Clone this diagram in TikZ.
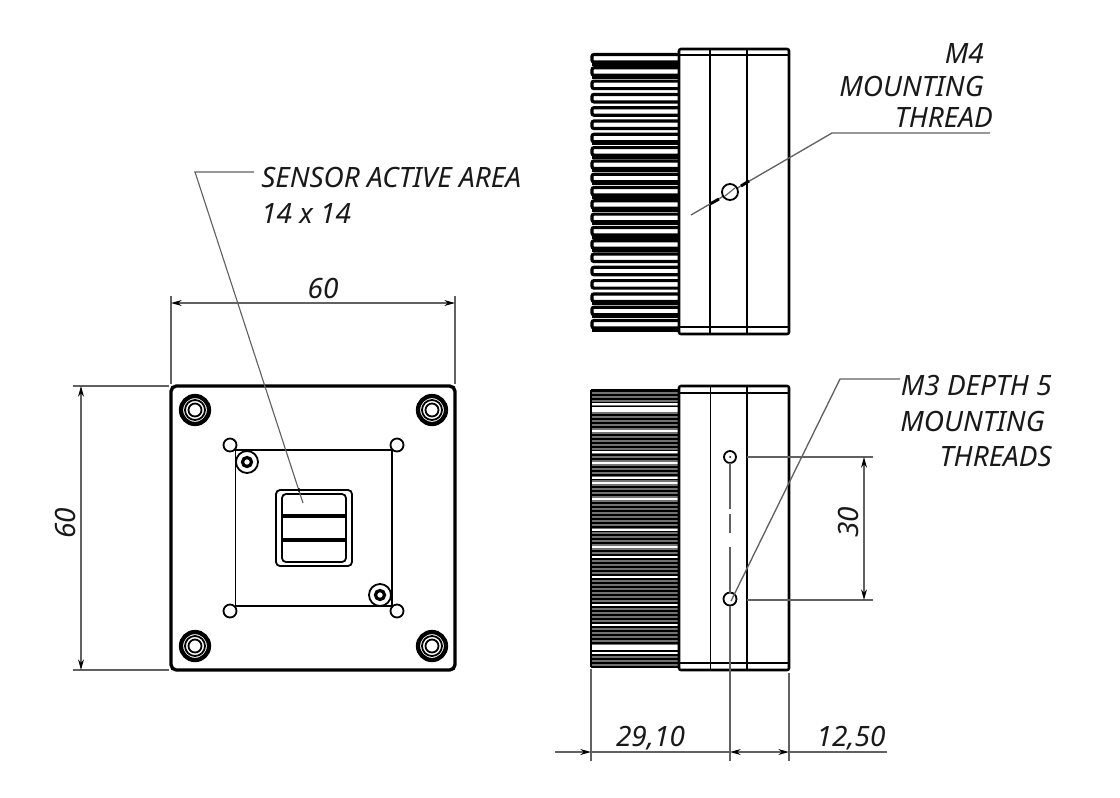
\documentclass[tikz,border=0pt]{standalone}
\usepackage{fontspec}
\setmainfont{Noto Sans}
\usepackage{xcolor}
\usetikzlibrary{calc,arrows.meta}
\definecolor{dimgray}{gray}{0.38}
\definecolor{fingray}{gray}{0.45}

\begin{document}
\begin{tikzpicture}[x=0.75pt,y=-0.75pt]
        % Define the styles for the outlines, dimensions and labels
        \tikzstyle{outline}=[draw=black, line width=1.9pt];
        \tikzstyle{thinoutline}=[draw=black, line width=1.35pt];
        \tikzstyle{dimline}=[draw=dimgray, line width=0.85pt];
        \tikzstyle{dimarrow}=[dimline, {Stealth[length=8pt,width=4.4pt,color=black]}-{Stealth[length=8pt,width=4.4pt,color=black]}];
        \tikzstyle{dimend}=[dimline, -{Stealth[length=8pt,width=4.4pt,color=black]}];
        \tikzstyle{label}=[inner sep=0pt, font=\fontsize{21}{23}\selectfont\itshape, text=black!90];

        \useasboundingbox (0,0) rectangle (1120,797);

        % Front view
        \draw[outline, line width=2.5pt, rounded corners=4pt] (171,386) rectangle (455,670);
        \foreach \px/\py in {195/410, 432/410, 195/646, 432/646} {
            \coordinate (bolt) at (\px,\py);
            \draw[line width=3.2pt] (bolt) circle (14);
            \draw[thinoutline] (bolt) circle (10);
            \draw[thinoutline] (bolt) circle (6.5);
        }
        \draw[thinoutline] (235.5,450) rectangle (392,606);
        \foreach \px/\py in {230/445, 397/445, 230/611, 397/611} {
            \draw[thinoutline, fill=white] (\px,\py) circle (6.5);
        }
        \foreach \px/\py in {247/462, 380/595} {
            \draw[thinoutline, fill=white] (\px,\py) circle (11);
            \draw[line width=2.4pt] (\px,\py) circle (4.5);
        }

        % Sensor window
        \draw[thinoutline, rounded corners=3pt] (276,490) rectangle (352,566);
        \draw[thinoutline, rounded corners=3pt] (282,494) rectangle (346,562);
        \draw[line width=2.6pt] (282,516) -- (346,516);
        \draw[line width=2.6pt] (282,540) -- (346,540);

        % Dimensions of the front view
        \coordinate (FTL) at (171,303);
        \coordinate (FTR) at (455,303);
        \coordinate (FLT) at (81,386);
        \coordinate (FLB) at (81,670);
        \draw[dimline] (171,296) -- (171,384);
        \draw[dimline] (455,296) -- (455,384);
        \draw[dimline] (73,386) -- (169,386);
        \draw[dimline] (73,670) -- (169,670);
        \draw[dimarrow] (FTL) -- (FTR);
        \draw[dimarrow] (FLT) -- (FLB);
        \node[label, anchor=base] (widthlabel) at (323,298) {60};
        \node[label, rotate=90] (heightlabel) at (65,523) {60};

        % Leader of the sensor area
        \coordinate (SA) at (303,503);
        \coordinate (SB) at (195,172);
        \coordinate (SC) at (254,172);
        \draw[dimline] (SA) -- (SB) -- (SC);
        \draw[fill=black] (SA) ++(-4,-13) circle (1.6);
        \node[label, anchor=base west] (sensorlabel) at (261,187) {SENSOR ACTIVE AREA};
        \node[label, anchor=base west] (sizelabel) at (261,223) {14 x 14};

        % Upper side view: the fins
        \foreach \i in {0,...,20} {
            \draw[line width=2.4pt, rounded corners=1.5pt, fill=white] (679,{54.5+13.3*\i}) -- (592,{54.5+13.3*\i}) -- (592,{62+13.3*\i}) -- (679,{62+13.3*\i});
        }
        \foreach \i in {0,1,6,7,8,9,10,11,12,13,14,18,19,20} {
            \draw[line width=2.4pt] (592,{64+13.3*\i}) -- (679,{64+13.3*\i});
        }

        % Upper side view: the body
        \draw[outline, rounded corners=1.5pt, fill=white] (679,49) rectangle (789,334);
        \draw[thinoutline] (679,55) -- (789,55);
        \draw[thinoutline] (679,327) -- (789,327);
        \draw[thinoutline] (710,49) -- (710,334);
        \draw[thinoutline] (747,49) -- (747,334);

        % Thread M4 and its leader
        \coordinate (MA) at (691,215);
        \coordinate (MB) at (832,133);
        \coordinate (MC) at (990,133);
        \draw[dimline, line width=1pt] (MA) -- (MB) -- (MC);
        \draw[thinoutline, fill=white] (730,192) circle (8);
        \draw[dimline] (725,196) -- (735,188);
        \draw[line width=2.2pt] (710,204) -- (719,199);
        \draw[line width=2.2pt] (741,186) -- (749,181);
        \node[label, anchor=base east] (mfourlabel) at (984,63) {M4};
        \node[label, anchor=base east] (mountlabel) at (984,96) {MOUNTING};
        \node[label, anchor=base east] (threadlabel) at (993,127) {THREAD};

        % Lower side view: the fins
        \fill[fingray] (591,390) rectangle (679,667);
        \foreach \i in {0,...,69} {
            \draw[line width=1.15pt] (591,{391+4*\i}) -- (679,{391+4*\i});
        }
        % the light stripes among the fins
        \foreach \sy/\sw in {404/1.4, 409.5/5, 431/1.4, 452/1.8, 463/1.4, 478/1.4, 483/1.4, 499/1.4, 530/1.4, 547/1.4, 557/1.4, 577/1.4, 605/1.4, 625/1.6, 647/5, 653/1.4} {
            \fill[white] (592,{\sy-\sw/2}) rectangle (678,{\sy+\sw/2});
        }
        \draw[line width=1.4pt] (591,390) -- (591,667);
        \draw[line width=1.2pt] (591,390) -- (679,390);

        % Lower side view: the body
        \draw[outline, rounded corners=1.5pt, fill=white] (679,386) rectangle (789,670);
        \draw[thinoutline] (679,393) -- (789,393);
        \draw[thinoutline] (679,663) -- (789,663);
        \draw[thinoutline] (710.5,386) -- (710.5,670);
        \draw[thinoutline] (747,386) -- (747,670);

        % Threads M3
        \coordinate (TU) at (730,457);
        \coordinate (TL) at (730,599);
        \draw[thinoutline] (TU) circle (6);
        \fill (TU) circle (1);
        \draw[thinoutline] (TL) circle (6.5);
        \draw[dimline] (730,463) -- (730,509);
        \draw[dimline] (730,514) -- (730,533);
        \draw[dimline] (730,547) -- (730,593);

        % Leader of the threads M3
        \coordinate (LA) at (731,601);
        \coordinate (LB) at (840,379);
        \coordinate (LC) at (900,379);
        \draw[dimline, line width=1pt] (LA) -- (LB) -- (LC);
        \node[label, anchor=base east] (mthreelabel) at (1052,395) {M3 DEPTH 5};
        \node[label, anchor=base east] (mountlabeltwo) at (1045,431) {MOUNTING};
        \node[label, anchor=base east] (threadlabeltwo) at (1052,466) {THREADS};

        % Dimension 30
        \coordinate (DU) at (864,457);
        \coordinate (DL) at (864,600);
        \draw[dimline] (747,457) -- (873,457);
        \draw[dimline] (747,600) -- (873,600);
        \draw[dimarrow] (DU) -- (DL);
        \node[label, rotate=90] (thirtylabel) at (848,522) {30};

        % Dimensions below
        \coordinate (BA) at (555,752);
        \coordinate (BB) at (591,752);
        \coordinate (BC) at (730,752);
        \coordinate (BD) at (789,752);
        \coordinate (BE) at (887,752);
        \draw[dimline] (591,669) -- (591,761);
        \draw[dimline] (730,606) -- (730,761);
        \draw[dimline] (789,673) -- (789,761);
        \draw[dimend] (BA) -- (BB);
        \draw[dimline] (BB) -- (BC);
        \draw[dimarrow] (BC) -- (BD);
        \draw[dimline] (BD) -- (BE);
        \node[label, anchor=base] (leftlabel) at (650.5,746) {29,10};
        \node[label, anchor=base] (rightlabel) at (851,746) {12,50};

    \end{tikzpicture}
\end{document}
